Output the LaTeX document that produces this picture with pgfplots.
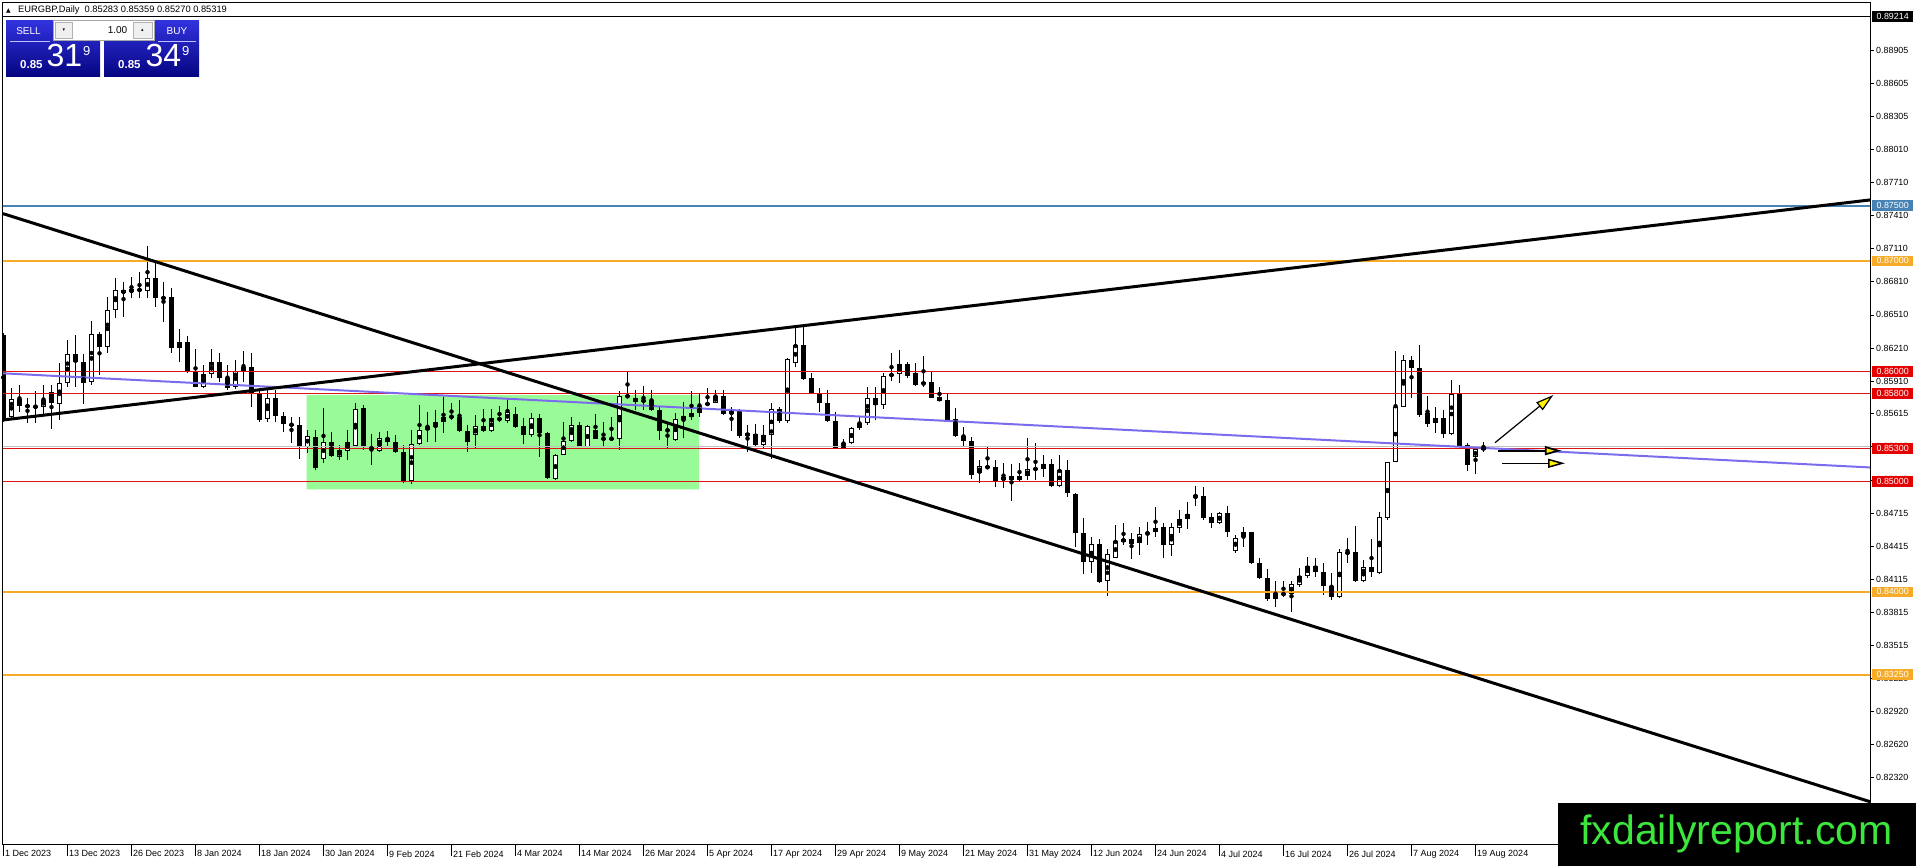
\documentclass[border=0pt]{standalone}
\usepackage{pgfplots}
\pgfplotsset{compat=1.18}
\usepackage{pgfplotstable}
\usepackage{fontspec}
\setmainfont{Liberation Sans}
\newfontfamily\dejavu{DejaVu Sans}
\usetikzlibrary{arrows.meta}
\definecolor{lvlblue}{RGB}{70,130,180}
\definecolor{lvlorange}{RGB}{245,170,40}
\definecolor{lvlred}{RGB}{222,20,20}
\definecolor{boxgreen}{RGB}{152,251,152}
\definecolor{slate}{RGB}{123,108,238}
\definecolor{bidgray}{RGB}{192,192,192}
\definecolor{logogreen}{RGB}{60,230,60}
\definecolor{paneltop}{RGB}{50,50,222}
\definecolor{panelbot}{RGB}{5,5,130}

\pgfplotstableread{
i o h l c
0 0.86329 0.86345 0.85540 0.85559
1 0.85583 0.85846 0.85559 0.85746
2 0.85746 0.85876 0.85634 0.85685
3 0.85695 0.85755 0.85528 0.85673
4 0.85685 0.85824 0.85534 0.85673
5 0.85679 0.85876 0.85613 0.85740
6 0.85809 0.85876 0.85477 0.85710
7 0.85704 0.86072 0.85559 0.85891
8 0.85891 0.86283 0.85855 0.86154
9 0.86154 0.86329 0.85861 0.86081
10 0.86081 0.86157 0.85701 0.85897
11 0.85900 0.86456 0.85876 0.86335
12 0.86335 0.86359 0.85966 0.86217
13 0.86217 0.86676 0.86169 0.86555
14 0.86555 0.86842 0.86480 0.86736
15 0.86736 0.86812 0.86495 0.86706
16 0.86715 0.86857 0.86667 0.86742
17 0.86742 0.86902 0.86661 0.86733
18 0.86730 0.87135 0.86661 0.86842
19 0.86842 0.86993 0.86585 0.86661
20 0.86670 0.86812 0.86450 0.86658
21 0.86670 0.86752 0.86163 0.86208
22 0.86208 0.86380 0.86087 0.86262
23 0.86262 0.86320 0.85981 0.86003
24 0.85997 0.86199 0.85855 0.85861
25 0.85861 0.86057 0.85846 0.85972
26 0.85972 0.86199 0.85936 0.86081
27 0.86081 0.86163 0.85906 0.85942
28 0.85942 0.86057 0.85830 0.85846
29 0.85861 0.86102 0.85836 0.86006
30 0.86006 0.86187 0.85906 0.86036
31 0.86036 0.86169 0.85679 0.85800
32 0.85800 0.85836 0.85544 0.85559
33 0.85565 0.85836 0.85544 0.85755
34 0.85755 0.85830 0.85544 0.85598
35 0.85598 0.85634 0.85453 0.85519
36 0.85522 0.85589 0.85347 0.85510
37 0.85510 0.85589 0.85202 0.85317
38 0.85317 0.85468 0.85263 0.85417
39 0.85408 0.85468 0.85106 0.85121
40 0.85202 0.85664 0.85166 0.85362
41 0.85362 0.85453 0.85220 0.85232
42 0.85226 0.85332 0.85196 0.85287
43 0.85281 0.85468 0.85196 0.85356
44 0.85326 0.85710 0.85317 0.85658
45 0.85664 0.85695 0.85287 0.85323
46 0.85317 0.85432 0.85151 0.85287
47 0.85280 0.85452 0.85270 0.85391
48 0.85391 0.85458 0.85316 0.85361
49 0.85361 0.85421 0.85255 0.85270
50 0.85270 0.85337 0.84990 0.85005
51 0.85008 0.85467 0.84974 0.85337
52 0.85337 0.85693 0.85331 0.85467
53 0.85467 0.85633 0.85361 0.85497
54 0.85491 0.85648 0.85361 0.85542
55 0.85542 0.85769 0.85443 0.85588
56 0.85594 0.85715 0.85557 0.85582
57 0.85582 0.85745 0.85452 0.85458
58 0.85458 0.85512 0.85270 0.85361
59 0.85421 0.85603 0.85310 0.85506
60 0.85506 0.85663 0.85452 0.85458
61 0.85458 0.85663 0.85452 0.85573
62 0.85579 0.85684 0.85542 0.85557
63 0.85551 0.85748 0.85533 0.85633
64 0.85609 0.85678 0.85488 0.85497
65 0.85503 0.85573 0.85346 0.85418
66 0.85421 0.85618 0.85400 0.85573
67 0.85573 0.85618 0.85225 0.85443
68 0.85443 0.85452 0.85020 0.85029
69 0.85029 0.85255 0.85020 0.85246
70 0.85246 0.85542 0.85240 0.85370
71 0.85370 0.85588 0.85361 0.85518
72 0.85518 0.85542 0.85310 0.85316
73 0.85316 0.85512 0.85310 0.85503
74 0.85467 0.85609 0.85382 0.85391
75 0.85397 0.85542 0.85310 0.85382
76 0.85397 0.85582 0.85376 0.85382
77 0.85391 0.85823 0.85292 0.85778
78 0.85784 0.86005 0.85754 0.85763
79 0.85754 0.85835 0.85648 0.85724
80 0.85739 0.85869 0.85648 0.85727
81 0.85739 0.85835 0.85639 0.85648
82 0.85648 0.85678 0.85376 0.85458
83 0.85458 0.85542 0.85292 0.85473
84 0.85376 0.85618 0.85370 0.85563
85 0.85563 0.85724 0.85400 0.85594
86 0.85588 0.85820 0.85557 0.85618
87 0.85618 0.85793 0.85588 0.85684
88 0.85690 0.85844 0.85684 0.85715
89 0.85715 0.85835 0.85709 0.85778
90 0.85778 0.85835 0.85603 0.85609
91 0.85609 0.85678 0.85461 0.85639
92 0.85639 0.85663 0.85400 0.85412
93 0.85412 0.85512 0.85270 0.85443
94 0.85428 0.85521 0.85316 0.85331
95 0.85331 0.85512 0.85301 0.85421
96 0.85421 0.85709 0.85201 0.85663
97 0.85663 0.85678 0.85533 0.85551
98 0.85551 0.86120 0.85527 0.86116
99 0.86071 0.86418 0.86041 0.86237
100 0.86237 0.86418 0.85920 0.85929
101 0.85935 0.85980 0.85799 0.85805
102 0.85805 0.85844 0.85633 0.85715
103 0.85715 0.85829 0.85542 0.85551
104 0.85551 0.85633 0.85301 0.85307
105 0.85307 0.85391 0.85301 0.85352
106 0.85352 0.85497 0.85346 0.85482
107 0.85482 0.85588 0.85467 0.85533
108 0.85533 0.85854 0.85512 0.85754
109 0.85754 0.85860 0.85558 0.85694
110 0.85694 0.85987 0.85658 0.85957
111 0.85957 0.86162 0.85914 0.85975
112 0.85975 0.86192 0.85896 0.86065
113 0.86065 0.86087 0.85936 0.85960
114 0.85987 0.86072 0.85866 0.85875
115 0.85881 0.86138 0.85860 0.85899
116 0.85899 0.85990 0.85754 0.85760
117 0.85763 0.85860 0.85730 0.85733
118 0.85739 0.85794 0.85543 0.85558
119 0.85567 0.85664 0.85401 0.85416
120 0.85416 0.85498 0.85322 0.85371
121 0.85371 0.85407 0.85020 0.85060
122 0.85075 0.85195 0.84984 0.85141
123 0.85141 0.85310 0.85111 0.85120
124 0.85129 0.85195 0.84954 0.85008
125 0.85014 0.85165 0.84945 0.85038
126 0.85050 0.85159 0.84827 0.85014
127 0.85014 0.85165 0.85008 0.85050
128 0.85050 0.85392 0.85014 0.85111
129 0.85117 0.85346 0.85014 0.85111
130 0.85111 0.85241 0.85044 0.85156
131 0.85156 0.85202 0.84954 0.84963
132 0.84963 0.85241 0.84954 0.85105
133 0.85105 0.85195 0.84863 0.84899
134 0.84887 0.84893 0.84410 0.84531
135 0.84537 0.84667 0.84168 0.84274
136 0.84274 0.84501 0.84168 0.84431
137 0.84434 0.84476 0.84084 0.84093
138 0.84102 0.84386 0.83963 0.84340
139 0.84310 0.84606 0.84304 0.84461
140 0.84455 0.84630 0.84425 0.84479
141 0.84479 0.84537 0.84295 0.84434
142 0.84440 0.84591 0.84334 0.84525
143 0.84537 0.84637 0.84425 0.84525
144 0.84540 0.84773 0.84501 0.84585
145 0.84585 0.84628 0.84304 0.84425
146 0.84425 0.84628 0.84325 0.84585
147 0.84585 0.84742 0.84531 0.84658
148 0.84658 0.84812 0.84567 0.84706
149 0.84848 0.84960 0.84780 0.84878
150 0.84869 0.84954 0.84652 0.84673
151 0.84676 0.84712 0.84576 0.84622
152 0.84622 0.84727 0.84616 0.84712
153 0.84712 0.84779 0.84501 0.84546
154 0.84371 0.84516 0.84356 0.84492
155 0.84495 0.84592 0.84410 0.84540
156 0.84540 0.84546 0.84250 0.84259
157 0.84259 0.84305 0.84114 0.84123
158 0.84123 0.84205 0.83921 0.83933
159 0.83933 0.84102 0.83867 0.83987
160 0.83978 0.84102 0.83957 0.83987
161 0.83981 0.84102 0.83821 0.84072
162 0.84063 0.84214 0.84048 0.84148
163 0.84148 0.84320 0.84123 0.84238
164 0.84238 0.84305 0.84138 0.84178
165 0.84178 0.84265 0.83972 0.84054
166 0.84057 0.84169 0.83927 0.83951
167 0.83951 0.84389 0.83942 0.84359
168 0.84365 0.84486 0.84259 0.84344
169 0.84365 0.84598 0.84093 0.84102
170 0.84102 0.84290 0.84093 0.84223
171 0.84223 0.84477 0.84138 0.84184
172 0.84175 0.84728 0.84163 0.84676
173 0.84667 0.85181 0.84652 0.85175
174 0.85181 0.86187 0.85181 0.85679
175 0.85679 0.86147 0.85673 0.86102
176 0.86102 0.86138 0.85755 0.86027
177 0.86027 0.86238 0.85583 0.85604
178 0.85619 0.85776 0.85492 0.85522
179 0.85528 0.85673 0.85437 0.85573
180 0.85573 0.85649 0.85392 0.85431
181 0.85431 0.85921 0.85422 0.85794
182 0.85794 0.85876 0.85311 0.85317
183 0.85332 0.85353 0.85099 0.85151
184 0.85220 0.85323 0.85069 0.85293
185 0.85283 0.85359 0.85270 0.85319
}\candles

\begin{document}
\begin{tikzpicture}
\useasboundingbox (0,0) rectangle (1916pt,866pt);
\fill[white] (0,0) rectangle (1916pt,866pt);
\begin{axis}[
  at={(3pt,21pt)}, anchor=south west,
  scale only axis, width=1867pt, height=842pt,
  xmin=-0.0625, xmax=233.31, ymin=0.817066, ymax=0.893369,
  axis line style={line width=1pt, black},
  tick align=outside,
  xtick pos=left, ytick pos=right, yticklabel pos=right,
  major tick length=3.5pt, minor tick length=11pt,
  tick style={black, line width=0.8pt},
  xtick={0,8,...,184},
  minor xtick={0,8,...,184},
  xticklabels={1 Dec 2023,13 Dec 2023,26 Dec 2023,8 Jan 2024,18 Jan 2024,30 Jan 2024,9 Feb 2024,21 Feb 2024,4 Mar 2024,14 Mar 2024,26 Mar 2024,5 Apr 2024,17 Apr 2024,29 Apr 2024,9 May 2024,21 May 2024,31 May 2024,12 Jun 2024,24 Jun 2024,4 Jul 2024,16 Jul 2024,26 Jul 2024,7 Aug 2024,19 Aug 2024},
  ytick={0.82320,0.82620,0.82920,0.83220,0.83515,0.83815,0.84115,0.84415,0.84715,0.85015,0.85315,0.85615,0.85910,0.86210,0.86510,0.86810,0.87110,0.87410,0.87710,0.88010,0.88305,0.88605,0.88905},
  yticklabels={0.82320,0.82620,0.82920,0.83220,0.83515,0.83815,0.84115,0.84415,0.84715,0.85015,0.85315,0.85615,0.85910,0.86210,0.86510,0.86810,0.87110,0.87410,0.87710,0.88010,0.88305,0.88605,0.88905},
  xticklabel style={font=\fontsize{9}{10}\selectfont, anchor=north west, inner sep=0pt, xshift=1.5pt, yshift=-2pt},
  yticklabel style={font=\fontsize{8.9}{10}\selectfont, anchor=west, inner sep=0pt, xshift=2.5pt},
  clip=true,
]
% green zone
\addplot[fill=boxgreen, draw=none, forget plot] coordinates {(37.9,0.8493) (86.94,0.8493) (86.94,0.85785) (37.9,0.85785) (37.9,0.8493)};

% candles: wicks, bodies, white interiors
\addplot[black, only marks, mark=none, forget plot,
  error bars/.cd, y dir=both, y explicit, error mark=none,
  error bar style={line width=1pt, black}]
  table[x=i, y expr={(\thisrow{h}+\thisrow{l})/2}, y error expr={(\thisrow{h}-\thisrow{l})/2}] {\candles};
\addplot[black, only marks, mark=none, forget plot,
  error bars/.cd, y dir=both, y explicit, error mark=none,
  error bar style={line width=5pt, black}]
  table[x=i, y expr={(\thisrow{o}+\thisrow{c})/2}, y error expr={max(abs(\thisrow{c}-\thisrow{o})/2,0.000045)}] {\candles};
\addplot[black, only marks, mark=none, forget plot,
  error bars/.cd, y dir=both, y explicit, error mark=none,
  error bar style={line width=3pt, white}]
  table[x=i, y expr={(\thisrow{o}+\thisrow{c})/2}, y error expr={max((\thisrow{c}-\thisrow{o})/2-0.0000906,0)}] {\candles};

% horizontal levels
\addplot[black, line width=0.8pt, forget plot] coordinates {(-1,0.89214) (240,0.89214)};
\addplot[lvlblue, line width=2pt, forget plot] coordinates {(-1,0.875) (240,0.875)};
\addplot[lvlorange, line width=2pt, forget plot] coordinates {(-1,0.870) (240,0.870)};
\addplot[lvlred, line width=1pt, forget plot] coordinates {(-1,0.860) (240,0.860)};
\addplot[lvlred, line width=1pt, forget plot] coordinates {(-1,0.858) (240,0.858)};
\addplot[bidgray, line width=1pt, forget plot] coordinates {(-1,0.85319) (240,0.85319)};
\addplot[lvlred, line width=1pt, forget plot] coordinates {(-1,0.853) (240,0.853)};
\addplot[lvlred, line width=1pt, forget plot] coordinates {(-1,0.850) (240,0.850)};
\addplot[lvlorange, line width=2pt, forget plot] coordinates {(-1,0.840) (240,0.840)};
\addplot[lvlorange, line width=2pt, forget plot] coordinates {(-1,0.8325) (240,0.8325)};

% trend lines
\addplot[slate, line width=2pt, forget plot] coordinates {(-0.0625,0.85981) (233.31,0.85128)};
\addplot[black, line width=3pt, forget plot] coordinates {(-0.0625,0.87428) (233.31,0.82099)};
\addplot[black, line width=3pt, forget plot] coordinates {(-0.0625,0.85558) (233.31,0.87552)};

% arrows
\addplot[black, line width=1.2pt, -{Triangle[length=18pt,width=10pt,fill=yellow]}, forget plot] coordinates {(186.44,0.853523) (193.73,0.857845)};
\addplot[black, line width=1.8pt, -{Triangle[length=17pt,width=9pt,fill=yellow]}, forget plot] coordinates {(186.85,0.852798) (194.78,0.852798)};
\addplot[black, line width=1.5pt, -{Triangle[length=17pt,width=9pt,fill=yellow]}, forget plot] coordinates {(187.35,0.851656) (195.19,0.851656)};

\coordinate (LA) at (axis cs:233.31,0.89214);
\coordinate (LB) at (axis cs:233.31,0.875);
\coordinate (LC) at (axis cs:233.31,0.870);
\coordinate (LD) at (axis cs:233.31,0.860);
\coordinate (LE) at (axis cs:233.31,0.858);
\coordinate (LF) at (axis cs:233.31,0.853);
\coordinate (LG) at (axis cs:233.31,0.850);
\coordinate (LH) at (axis cs:233.31,0.840);
\coordinate (LI) at (axis cs:233.31,0.8325);
\end{axis}

% price labels on the right axis
\tikzset{lvl/.style={anchor=west, text=white, inner sep=0pt, minimum width=41.5pt, minimum height=10.7pt, font=\fontsize{8.9}{10}\selectfont, xshift=1.7pt}}
\node[lvl, fill=black] at (LA) {0.89214};
\node[lvl, fill=lvlblue] at (LB) {0.87500};
\node[lvl, fill=lvlorange] at (LC) {0.87000};
\node[lvl, fill=red!90!black] at (LD) {0.86000};
\node[lvl, fill=red!90!black] at (LE) {0.85800};
\node[lvl, fill=red!90!black] at (LF) {0.85300};
\node[lvl, fill=red!90!black] at (LG) {0.85000};
\node[lvl, fill=lvlorange] at (LH) {0.84000};
\node[lvl, fill=lvlorange] at (LI) {0.83250};

\begin{scope}[shift={(0,866pt)}, x=1pt, y=-1pt]
% title
\node[anchor=west, inner sep=0pt] at (6,10.5) {\dejavu\fontsize{6}{6}\selectfont ▲};
\node[anchor=west, inner sep=0pt, font=\fontsize{9.3}{10}\selectfont] at (18,10.5) {EURGBP,Daily\ \ 0.85283 0.85359 0.85270 0.85319};
% one-click panel
\shade[top color=paneltop, bottom color=panelbot] (6,20.7) rectangle (100,76.5);
\shade[top color=paneltop, bottom color=panelbot] (104,20.7) rectangle (199,76.5);
\draw[white!75!blue, line width=0.6pt] (10,41.7) -- (50,41.7);
\draw[white!75!blue, line width=0.6pt] (158,41.7) -- (196,41.7);
\fill[white] (53,20.7) rectangle (154,40);
\draw[gray!70, line width=0.6pt] (53,20.7) rectangle (154,40);
\draw[gray!60, fill=gray!12, line width=0.5pt] (55,22.5) rectangle (72.5,38.5);
\draw[gray!60, fill=gray!12, line width=0.5pt] (133,22.5) rectangle (152,38.5);
\node[inner sep=0pt] at (63.8,30.5) {\dejavu\fontsize{5}{5}\selectfont ▾};
\node[inner sep=0pt] at (142.5,30) {\dejavu\fontsize{5}{5}\selectfont ▴};
\node[anchor=east, inner sep=0pt, font=\fontsize{10}{11}\selectfont] at (127.5,30.5) {1.00};
\node[text=white, inner sep=0pt, font=\fontsize{10}{11}\selectfont] at (28.5,31) {SELL};
\node[text=white, inner sep=0pt, font=\fontsize{10}{11}\selectfont] at (177,31) {BUY};
\node[anchor=base west, text=white, inner sep=0pt, font=\fontsize{11.5}{12}\selectfont\bfseries] at (20,68.3) {0.85};
\node[anchor=base west, text=white, inner sep=0pt, font=\fontsize{32}{34}\selectfont] at (46.5,66.7) {31};
\node[anchor=base west, text=white, inner sep=0pt, font=\fontsize{13}{14}\selectfont] at (83,56) {9};
\node[anchor=base west, text=white, inner sep=0pt, font=\fontsize{11.5}{12}\selectfont\bfseries] at (118,68.3) {0.85};
\node[anchor=base west, text=white, inner sep=0pt, font=\fontsize{32}{34}\selectfont] at (145.5,66.7) {34};
\node[anchor=base west, text=white, inner sep=0pt, font=\fontsize{13}{14}\selectfont] at (182,56) {9};
% logo
\fill[black] (1558,802.7) rectangle (1916,866);
\node[anchor=base, text=logogreen, inner sep=0pt, font=\fontsize{41}{44}\selectfont] at (1736.5,845) {fxdailyreport.com};
\end{scope}
\end{tikzpicture}
\end{document}
